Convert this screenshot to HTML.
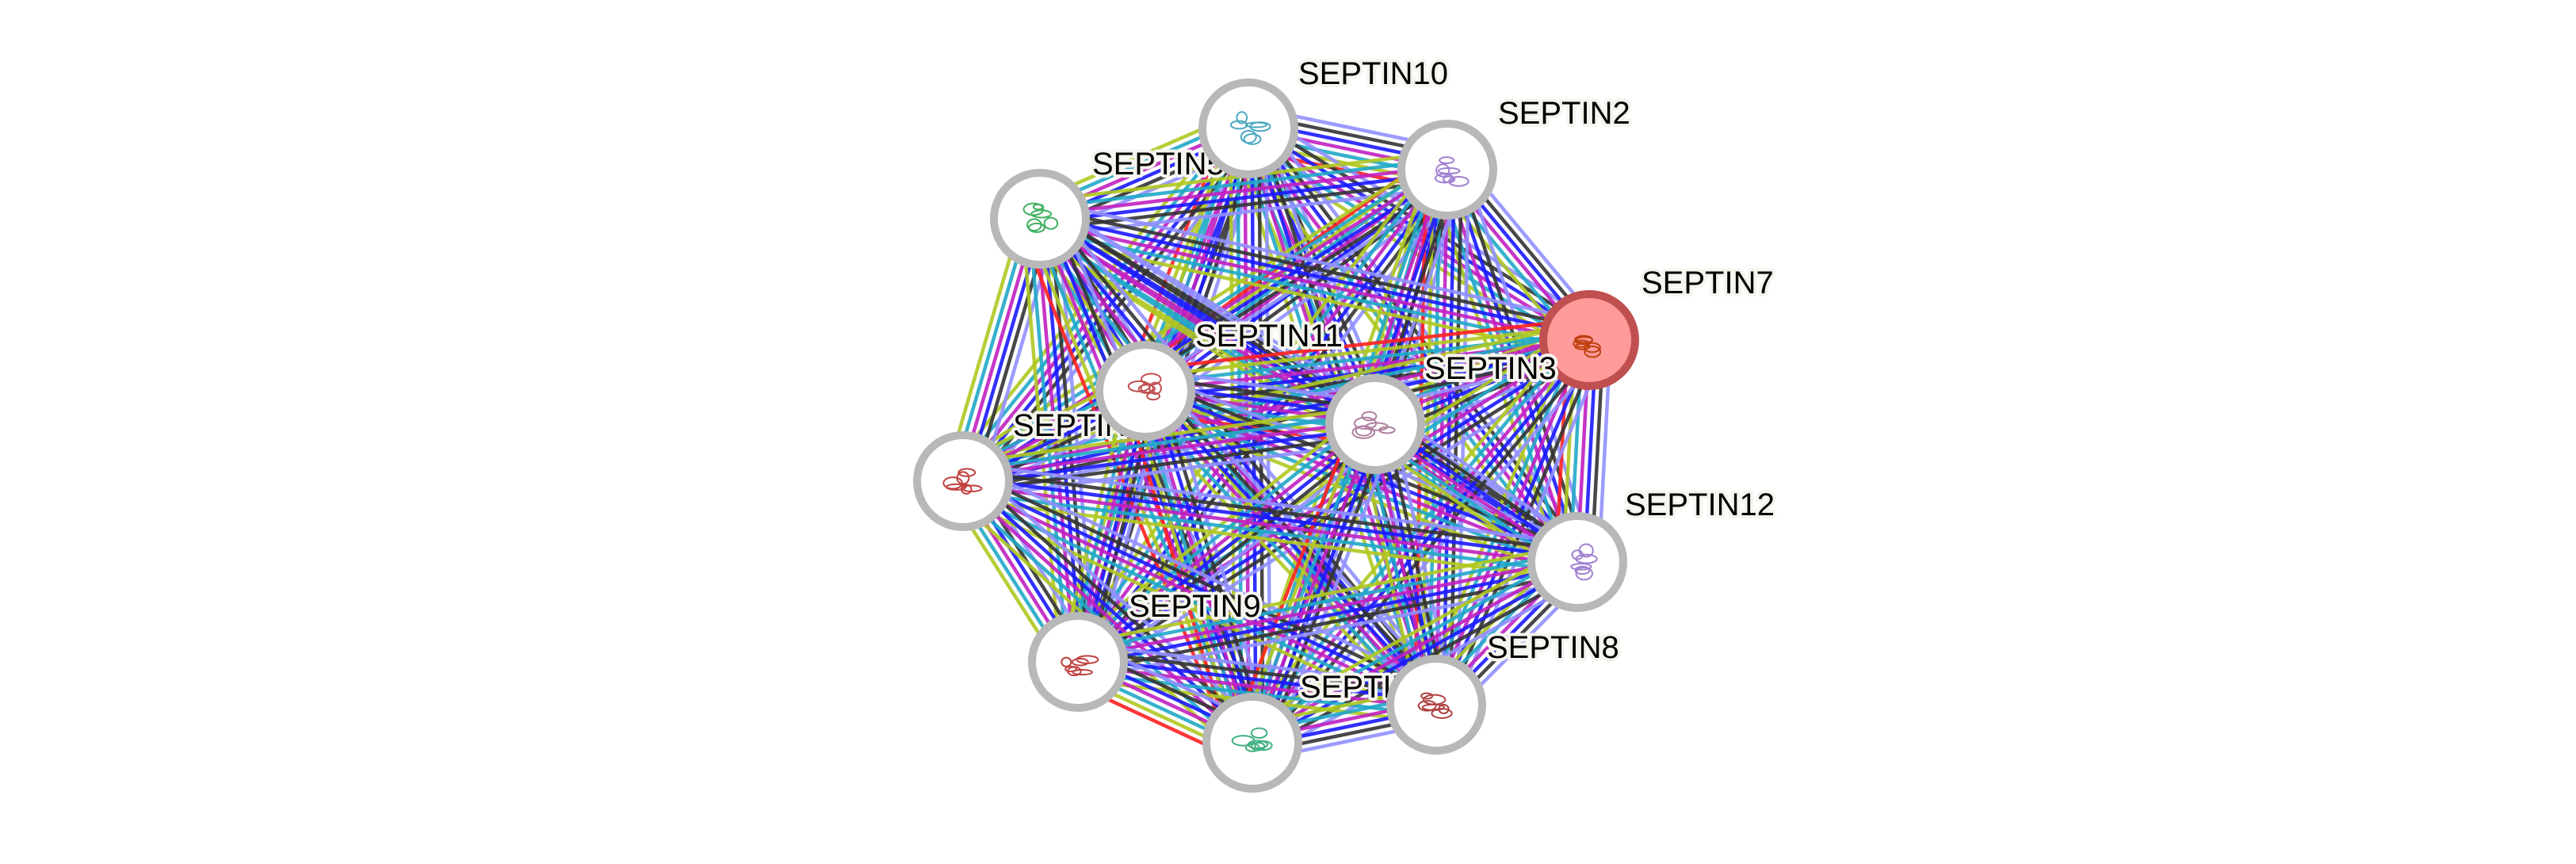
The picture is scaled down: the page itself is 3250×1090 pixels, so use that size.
<!DOCTYPE html>
<html><head><meta charset="utf-8"><style>
html,body{margin:0;padding:0;background:#fff;width:3250px;height:1090px;overflow:hidden}
svg{display:block}
text{font-family:"Liberation Sans",sans-serif;font-size:40px;fill:#000;paint-order:stroke;stroke:#f6f4ee;stroke-width:8px;stroke-linejoin:round}
</style></head><body>
<svg id="s" width="3250" height="1090" xmlns="http://www.w3.org/2000/svg">
<g id="edges"></g>
<g id="labels">
<text x="1638" y="106">SEPTIN10</text>
<text x="1890" y="156">SEPTIN2</text>
<text x="1378" y="220">SEPTIN5</text>
<text x="2071" y="370">SEPTIN7</text>
<text x="1278" y="550">SEPTIN6</text>
<text x="2050" y="650">SEPTIN12</text>
<text x="1424" y="778">SEPTIN9</text>
<text x="1876" y="830">SEPTIN8</text>
<text x="1640" y="880">SEPTIN4</text>
</g>
<g id="nodes"></g>
<g>
<text x="1508" y="437">SEPTIN11</text>
<text x="1797" y="478">SEPTIN3</text>
</g>
</svg>
<script>
var N=[[1575,162,'#4aa8c0'],[1826,214,'#a080d0'],[1312,276,'#40b060'],[2005,429,'#c04010'],[1445,493,'#c05050'],[1735,535,'#b080a0'],[1215,607,'#c04040'],[1990,709,'#a080d0'],[1360,835,'#c04040'],[1812,889,'#b04040'],[1580,937,'#40b080']];
var C=['#9090ff','#333333','#1a1aff','#c020c0','#20a8c8','#b0c820','#ff2020'];
var ns='http://www.w3.org/2000/svg',E=document.getElementById('edges'),G=document.getElementById('nodes');
var seed=11;function rnd(){seed=(seed*16807)%2147483647;return seed/2147483647;}
for(var i=0;i<N.length;i++)for(var j=i+1;j<N.length;j++){
 var a=N[i],b=N[j],dx=b[0]-a[0],dy=b[1]-a[1],L=Math.hypot(dx,dy),px=-dy/L,py=dx/L;
 var cols=C.filter(function(c,k){return k<6||rnd()<0.2;});
 var n=cols.length;
 for(var k=0;k<n;k++){var o=(k-(n-1)/2)*9;
  var l=document.createElementNS(ns,'line');
  l.setAttribute('x1',a[0]+px*o);l.setAttribute('y1',a[1]+py*o);
  l.setAttribute('x2',b[0]+px*o);l.setAttribute('y2',b[1]+py*o);
  l.setAttribute('stroke',cols[k]);l.setAttribute('stroke-width',4.5);l.setAttribute('stroke-opacity',0.9);
  E.appendChild(l);}
}
N.forEach(function(p,i){
 var c=document.createElementNS(ns,'circle');
 c.setAttribute('cx',p[0]);c.setAttribute('cy',p[1]);c.setAttribute('r',58);
 c.setAttribute('fill',i==3?'#ff9a9a':'#fff');c.setAttribute('stroke',i==3?'#c05050':'#b8b8b8');c.setAttribute('stroke-width',10);
 G.appendChild(c);
 for(var k=0;k<6;k++){var e=document.createElementNS(ns,'ellipse');
  e.setAttribute('cx',p[0]-15+rnd()*30);e.setAttribute('cy',p[1]-15+rnd()*30);
  e.setAttribute('rx',6+rnd()*8);e.setAttribute('ry',3+rnd()*5);
  e.setAttribute('fill','none');e.setAttribute('stroke',p[2]);e.setAttribute('stroke-width',2);G.appendChild(e);}
});
</script>
</body></html>
